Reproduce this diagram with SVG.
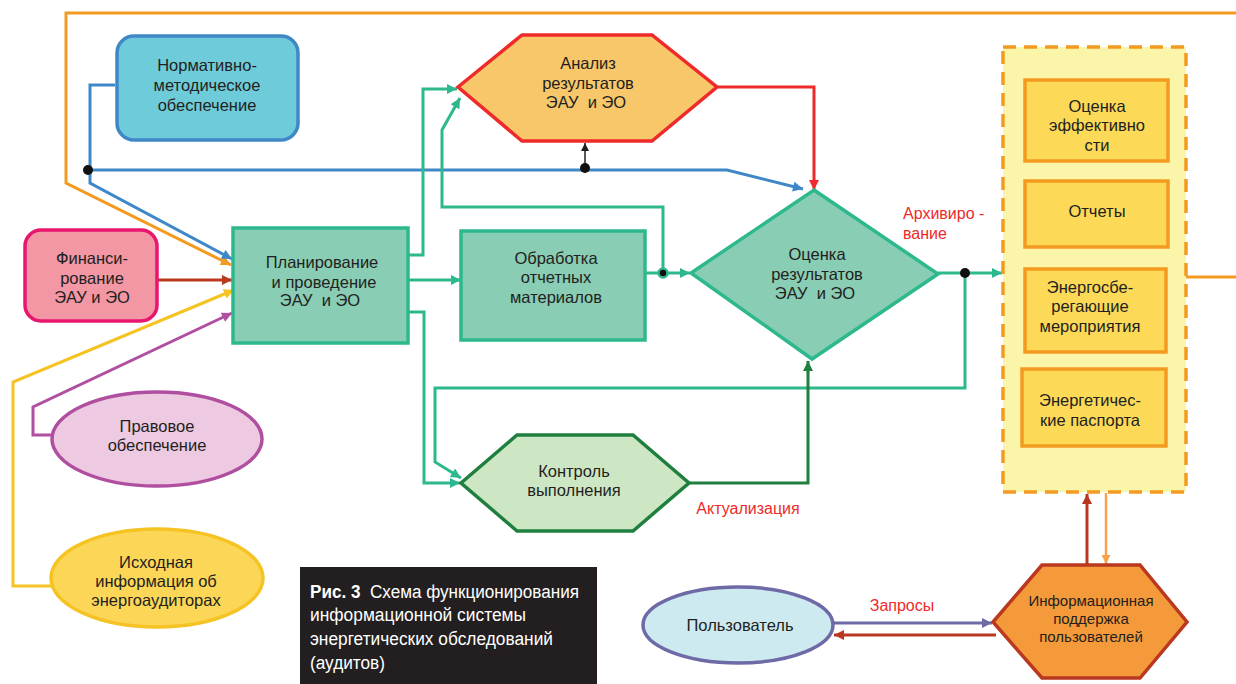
<svg xmlns="http://www.w3.org/2000/svg" width="1236" height="684" viewBox="0 0 1236 684">
<style>
.t{font-family:"Liberation Sans",Arial,sans-serif;font-size:16.5px;fill:#231F20;text-anchor:middle}
.r{font-family:"Liberation Sans",Arial,sans-serif;font-size:16px;fill:#EE2A2A}
.c{font-family:"Liberation Sans",Arial,sans-serif;font-size:18px;fill:#FFFFFF}
.ln{fill:none;stroke-width:3;stroke-linejoin:miter}
.teal{stroke:#2DB88E}
.gbox{fill:#88CDB4;stroke:#2DB88E;stroke-width:3.5}
.ybox{fill:#FCD957;stroke:#F39A21;stroke-width:3.5}
</style>
<defs>
<marker id="mTeal" viewBox="0 0 10 10" refX="10" refY="5" markerWidth="12" markerHeight="10" markerUnits="userSpaceOnUse" orient="auto"><path d="M0,0L10,5L0,10z" fill="#2DB88E"/></marker>
<marker id="mBlue" viewBox="0 0 10 10" refX="10" refY="5" markerWidth="12" markerHeight="10" markerUnits="userSpaceOnUse" orient="auto"><path d="M0,0L10,5L0,10z" fill="#3F88C8"/></marker>
<marker id="mOrange" viewBox="0 0 10 10" refX="10" refY="5" markerWidth="12" markerHeight="10" markerUnits="userSpaceOnUse" orient="auto"><path d="M0,0L10,5L0,10z" fill="#F39A21"/></marker>
<marker id="mRed" viewBox="0 0 10 10" refX="10" refY="5" markerWidth="12" markerHeight="10" markerUnits="userSpaceOnUse" orient="auto"><path d="M0,0L10,5L0,10z" fill="#EE2A2A"/></marker>
<marker id="mDark" viewBox="0 0 10 10" refX="10" refY="5" markerWidth="12" markerHeight="10" markerUnits="userSpaceOnUse" orient="auto"><path d="M0,0L10,5L0,10z" fill="#B9381F"/></marker>
<marker id="mYellow" viewBox="0 0 10 10" refX="10" refY="5" markerWidth="12" markerHeight="10" markerUnits="userSpaceOnUse" orient="auto"><path d="M0,0L10,5L0,10z" fill="#F5C324"/></marker>
<marker id="mPurple" viewBox="0 0 10 10" refX="10" refY="5" markerWidth="12" markerHeight="10" markerUnits="userSpaceOnUse" orient="auto"><path d="M0,0L10,5L0,10z" fill="#B04FA0"/></marker>
<marker id="mBlack" viewBox="0 0 10 10" refX="10" refY="5" markerWidth="10" markerHeight="8" markerUnits="userSpaceOnUse" orient="auto"><path d="M0,0L10,5L0,10z" fill="#231F20"/></marker>
<marker id="mDkGreen" viewBox="0 0 10 10" refX="10" refY="5" markerWidth="12" markerHeight="10" markerUnits="userSpaceOnUse" orient="auto"><path d="M0,0L10,5L0,10z" fill="#1E7F3E"/></marker>
<marker id="mUser" viewBox="0 0 10 10" refX="10" refY="5" markerWidth="12" markerHeight="10" markerUnits="userSpaceOnUse" orient="auto"><path d="M0,0L10,5L0,10z" fill="#6D6AA6"/></marker>
<marker id="mLtOrange" viewBox="0 0 10 10" refX="10" refY="5" markerWidth="11" markerHeight="9" markerUnits="userSpaceOnUse" orient="auto"><path d="M0,0L10,5L0,10z" fill="#F7A24A"/></marker>
</defs>

<g id="connectors">
<path class="ln" stroke="#F39A21" d="M1236,13 H66 V183 L231,265" marker-end="url(#mOrange)"/>
<path class="ln" stroke="#F39A21" d="M1186,277 H1236"/>
<path class="ln" stroke="#3F88C8" d="M115,85 H90 V183 L232,259" marker-end="url(#mBlue)"/>
<path class="ln" stroke="#3F88C8" d="M88,170 H727 L803,189" marker-end="url(#mBlue)"/>
<path fill="none" stroke="#231F20" stroke-width="1.5" d="M585,168 V143" marker-end="url(#mBlack)"/>
<path class="ln" stroke="#EE2A2A" d="M718,87 H814 V190" marker-end="url(#mRed)"/>
<path class="ln" stroke="#B9381F" d="M157,280 H232" marker-end="url(#mDark)"/>
<path class="ln" stroke="#F5C324" d="M51,586 H13 V382 L234,290" marker-end="url(#mYellow)"/>
<path class="ln" stroke="#B04FA0" d="M52,435 H33 V407 L232,313" marker-end="url(#mPurple)"/>
<path class="ln teal" d="M409,255 H423 V89 H457" marker-end="url(#mTeal)"/>
<path class="ln teal" d="M409,280 H461" marker-end="url(#mTeal)"/>
<path class="ln teal" d="M409,312 H424 V483 H460" marker-end="url(#mTeal)"/>
<path class="ln teal" d="M645,273 H690" marker-end="url(#mTeal)"/>
<path class="ln teal" d="M663,273 V207 H442 V130 L460,98" marker-end="url(#mTeal)"/>
<path class="ln teal" d="M938,273 H1002" marker-end="url(#mTeal)"/>
<path class="ln teal" d="M965,273 V388 H435 V462 L461,478" marker-end="url(#mTeal)"/>
<path class="ln" stroke="#1E7F3E" d="M689,483 H808 V361" marker-end="url(#mDkGreen)"/>
<path class="ln" stroke="#B9381F" d="M1087,565 V494" marker-end="url(#mDark)"/>
<path fill="none" stroke="#F7A24A" stroke-width="2.5" d="M1106,493 V564" marker-end="url(#mLtOrange)"/>
<path class="ln" stroke="#6D6AA6" d="M833,623 H992" marker-end="url(#mUser)"/>
<path class="ln" stroke="#B9381F" d="M996,635 H834" marker-end="url(#mDark)"/>
<circle cx="88" cy="170" r="5" fill="#111"/>
<circle cx="585" cy="168" r="5" fill="#111"/>
<circle cx="965" cy="273" r="5" fill="#111"/>
<circle cx="663" cy="273" r="4.5" fill="#111" stroke="#2DB88E" stroke-width="2.5"/>
</g>

<g id="normativ">
<rect x="117" y="36" width="181" height="104" rx="17" fill="#6ECBD9" stroke="#3F88C8" stroke-width="3.5"/>
<text class="t" x="207" y="71">Нормативно-</text>
<text class="t" x="207" y="91">методическое</text>
<text class="t" x="207" y="111">обеспечение</text>
</g>

<g id="finance">
<rect x="25" y="230" width="132" height="91" rx="16" fill="#F397A4" stroke="#E8166F" stroke-width="3.5"/>
<text class="t" x="92" y="264">Финанси-</text>
<text class="t" x="92" y="284">рование</text>
<text class="t" x="92" y="303">ЭАУ и ЭО</text>
</g>

<g id="planning">
<rect class="gbox" x="233" y="228" width="175" height="115"/>
<text class="t" x="322" y="268">Планирование</text>
<text class="t" x="324" y="288">и проведение</text>
<text class="t" x="320" y="306">ЭАУ&#160; и ЭО</text>
</g>

<g id="pravo">
<ellipse cx="157" cy="439" rx="105" ry="47" fill="#EDC9E2" stroke="#B04FA0" stroke-width="3.5"/>
<text class="t" x="157" y="432">Правовое</text>
<text class="t" x="157" y="451">обеспечение</text>
</g>

<g id="iskhod">
<ellipse cx="157" cy="578" rx="106" ry="49" fill="#FCD757" stroke="#F5C324" stroke-width="3.5"/>
<text class="t" x="156" y="568">Исходная</text>
<text class="t" x="156" y="587">информация об</text>
<text class="t" x="156" y="606">энергоаудиторах</text>
</g>

<g id="analysis">
<polygon points="458,87 522,35 652,35 717,87 652,141 522,141" fill="#F7C76A" stroke="#EE2A2A" stroke-width="3.5"/>
<text class="t" x="588" y="69">Анализ</text>
<text class="t" x="588" y="89">результатов</text>
<text class="t" x="586" y="108">ЭАУ&#160; и ЭО</text>
</g>

<g id="obrabotka">
<rect class="gbox" x="461" y="231" width="184" height="109"/>
<text class="t" x="556" y="264">Обработка</text>
<text class="t" x="556" y="283">отчетных</text>
<text class="t" x="556" y="303">материалов</text>
</g>

<g id="ocenka">
<polygon class="gbox" points="814,190 938,274 812,359 691,273"/>
<text class="t" x="817" y="260">Оценка</text>
<text class="t" x="817" y="280">результатов</text>
<text class="t" x="815" y="299">ЭАУ&#160; и ЭО</text>
</g>

<g id="kontrol">
<polygon points="461,483 517,435 633,435 689,483 633,531 517,531" fill="#CDE6C4" stroke="#1E7F3E" stroke-width="3.5"/>
<text class="t" x="574" y="477">Контроль</text>
<text class="t" x="574" y="496">выполнения</text>
</g>

<g id="labels">
<text class="r" x="903" y="219">Архивиро -</text>
<text class="r" x="903" y="239">вание</text>
<text class="r" x="748" y="514" text-anchor="middle">Актуализация</text>
<text class="r" x="902" y="611" text-anchor="middle">Запросы</text>
</g>

<g id="database">
<rect x="1003" y="47" width="183" height="445" fill="#FAF5A8" stroke="#F39A21" stroke-width="3.5" stroke-dasharray="13,8"/>
<g id="box-effect">
<rect class="ybox" x="1025" y="80" width="143" height="81"/>
<text class="t" x="1097" y="112">Оценка</text>
<text class="t" x="1097" y="131">эффективно</text>
<text class="t" x="1097" y="151">сти</text>
</g>
<g id="box-reports">
<rect class="ybox" x="1025" y="181" width="143" height="66"/>
<text class="t" x="1097" y="217">Отчеты</text>
</g>
<g id="box-energy">
<rect class="ybox" x="1025" y="269" width="141" height="83"/>
<text class="t" x="1090" y="293">Энергосбе-</text>
<text class="t" x="1090" y="312">регающие</text>
<text class="t" x="1090" y="332">мероприятия</text>
</g>
<g id="box-passport">
<rect class="ybox" x="1022" y="369" width="144" height="77"/>
<text class="t" x="1090" y="406">Энергетичес-</text>
<text class="t" x="1090" y="426">кие паспорта</text>
</g>
</g>

<g id="infosupport">
<polygon points="993,622 1042,565 1140,565 1187,622 1140,678 1042,678" fill="#F59A3A" stroke="#B9381F" stroke-width="3.5"/>
<text class="t" x="1091" y="606" style="font-size:15px">Информационная</text>
<text class="t" x="1091" y="624" style="font-size:15px">поддержка</text>
<text class="t" x="1091" y="642" style="font-size:15px">пользователей</text>
</g>

<g id="user">
<ellipse cx="738" cy="625" rx="95" ry="38" fill="#CDEAF0" stroke="#6D6AA6" stroke-width="3.5"/>
<text class="t" x="740" y="631">Пользователь</text>
</g>

<g id="caption">
<rect x="300" y="567" width="297" height="117" fill="#231F20"/>
<text class="c" x="310" y="598" textLength="269" lengthAdjust="spacingAndGlyphs"><tspan font-weight="bold">Рис. 3</tspan>&#160; Схема функционирования</text>
<text class="c" x="310" y="621" textLength="216" lengthAdjust="spacingAndGlyphs">информационной системы</text>
<text class="c" x="310" y="645" textLength="243" lengthAdjust="spacingAndGlyphs">энергетических обследований</text>
<text class="c" x="310" y="669" textLength="75" lengthAdjust="spacingAndGlyphs">(аудитов)</text>
</g>
</svg>
